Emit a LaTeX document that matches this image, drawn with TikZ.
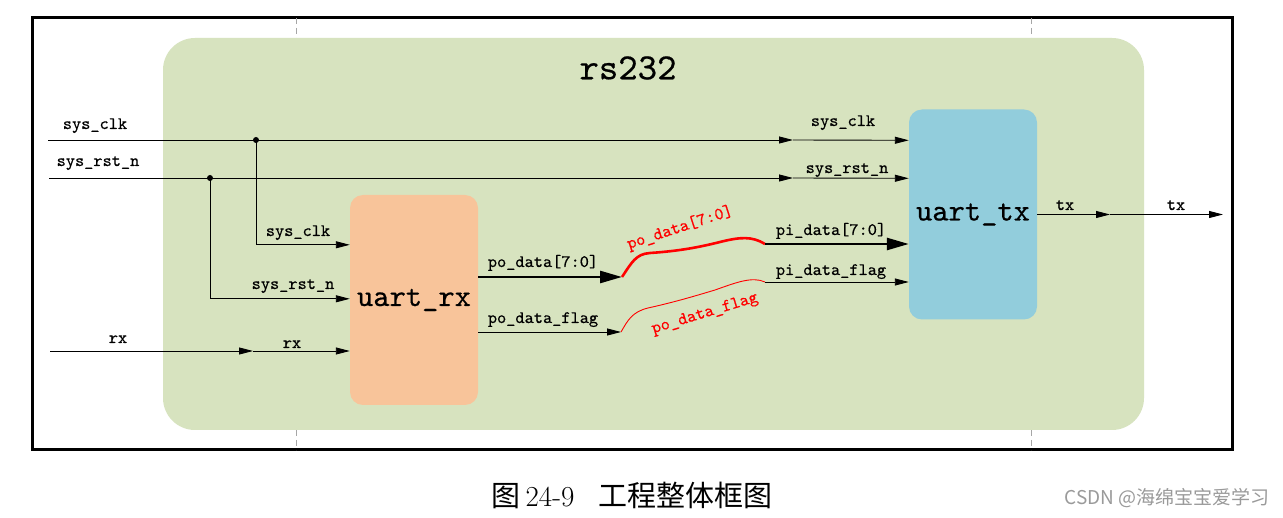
\documentclass[tikz,border=0pt]{standalone}
\usepackage{fontspec}
\newfontfamily\cjk{Noto Sans CJK SC}
\newfontfamily\lblfont[FakeBold=0.5]{lmmono10-regular.otf}
\usetikzlibrary{arrows.meta,calc}
\definecolor{bggreen}{HTML}{D7E3BF}
\definecolor{rxorange}{HTML}{F8C49A}
\definecolor{txblue}{HTML}{92CDDC}
\definecolor{wmgray}{HTML}{9A9A9A}
\begin{document}
\begin{tikzpicture}[x=1pt,y=-1pt,
  sig/.style={line width=0.9pt},
  sigarrow/.style={sig,-{Triangle[length=14pt,width=7pt]}},
  busarrow/.style={line width=2.6pt,-{Triangle[length=22pt,width=12pt]}},
  lbl/.style={font=\lblfont\fontsize{17.5}{17.5}\selectfont,inner sep=0pt,anchor=base},
  redlbl/.style={font=\lblfont\fontsize{17.5}{17.5}\selectfont,inner sep=0pt,text=red},
  blockbox/.style={rounded corners=13pt,minimum width=128pt,minimum height=210pt,inner sep=0pt,font=\lblfont\fontsize{31}{31}\selectfont},
  dot/.style={circle,fill=black,inner sep=0pt,minimum size=6pt},
  guide/.style={gray!70,line width=0.8pt,dash pattern=on 6pt off 4pt}
]
\useasboundingbox[fill=white] (0,0) rectangle (1283,518);
% outer frame
\draw[line width=3pt] (32,18) rectangle (1232,450);
% guides
\draw[guide] (296,18) -- (296,38);
\draw[guide] (296,430) -- (296,450);
\draw[guide] (1031,18) -- (1031,38);
\draw[guide] (1031,430) -- (1031,450);
% top module
\node[fill=bggreen,rounded corners=32pt,minimum width=981pt,minimum height=392pt,inner sep=0pt] (top) at (653.5,234) {};
\node[font=\lblfont\fontsize{37}{37}\selectfont,inner sep=0pt] (title) at (628,68) {rs232};
% blocks
\node[blockbox,fill=rxorange] (rx) at (414,300) {uart\_rx};
\node[blockbox,fill=txblue] (tx) at (973,214.5) {uart\_tx};
% free ends and points
\coordinate (inclk) at (48,140);
\coordinate (inrst) at (49,178);
\coordinate (inrx) at (50,351);
\coordinate (jclk) at (256,140);
\coordinate (jrst) at (210,178);
\coordinate (mclk) at (793,140);
\coordinate (mrst) at (793,178);
\coordinate (mrx) at (253,351);
\coordinate (mtx) at (1110,214.5);
\coordinate (outtx) at (1223,214.5);
\coordinate (poend) at (622,277);
\coordinate (flagend) at (621,332);
\coordinate (pistart) at (765,244);
\coordinate (piflagstart) at (765,282);
% clock / reset
\draw[sig] (inclk) -- (jclk);
\draw[sigarrow] (jclk) -- (mclk);
\draw[sigarrow] (mclk) -- ($(tx.north west)+(0,31)$);
\draw[sig] (inrst) -- (jrst);
\draw[sigarrow] (jrst) -- (mrst);
\draw[sigarrow] (mrst) -- ($(tx.north west)+(0,69)$);
\draw[sigarrow] (jclk) |- ($(rx.north west)+(0,50)$);
\draw[sigarrow] (jrst) |- ($(rx.north west)+(0,104)$);
\node[dot] at (jclk) {};
\node[dot] at (jrst) {};
% rx
\draw[sigarrow] (inrx) -- (mrx);
\draw[sigarrow] (mrx) -- (rx.west |- mrx);
% data
\draw[busarrow] (rx.east |- poend) -- (poend);
\draw[sigarrow] (rx.east |- flagend) -- (flagend);
\draw[red,line width=2.6pt] (poend) .. controls (632,262) and (636,254) .. (650,253)
  .. controls (680,251) and (700,247) .. (720,242)
  .. controls (740,237) and (752,236) .. (pistart);
\draw[red,line width=0.9pt] (flagend) .. controls (628,320) and (632,312) .. (648,308)
  .. controls (675,302) and (695,296) .. (715,290)
  .. controls (735,283) and (752,276) .. (piflagstart);
\draw[busarrow] (pistart) -- (tx.west |- pistart);
\draw[sigarrow] (piflagstart) -- (tx.west |- piflagstart);
% tx
\draw[sigarrow] (tx.east) -- (mtx);
\draw[sigarrow] (mtx) -- (outtx);
% labels
\node[lbl] (l1) at (95,129) {sys\_clk};
\node[lbl] (l2) at (98,166) {sys\_rst\_n};
\node[lbl] (l3) at (298,236) {sys\_clk};
\node[lbl] (l4) at (293,289) {sys\_rst\_n};
\node[lbl] (l5) at (118,343) {rx};
\node[lbl] (l6) at (292,348) {rx};
\node[lbl] (l7) at (543,267) {po\_data[7:0]};
\node[lbl] (l8) at (543,323) {po\_data\_flag};
\node[lbl] (l9) at (843,126) {sys\_clk};
\node[lbl] (l10) at (847,173) {sys\_rst\_n};
\node[lbl] (l11) at (831,235) {pi\_data[7:0]};
\node[lbl] (l12) at (831,275) {pi\_data\_flag};
\node[lbl] (l13) at (1065,210) {tx};
\node[lbl] (l14) at (1176,210) {tx};
\node[redlbl,rotate=18] (r1) at (680,228) {po\_data[7:0]};
\node[redlbl,rotate=17] (r2) at (705,314) {po\_data\_flag};
% caption
\node[inner sep=0pt,font=\fontsize{29}{29}\selectfont] (cap) at (632,495) {{\cjk 图}\hspace{5pt}24-9\hspace{24pt}{\cjk 工程整体框图}};
\node[inner sep=0pt,font=\fontsize{19}{19}\selectfont,text=wmgray,anchor=east] (wm) at (1270,498) {{\cjk CSDN @海绵宝宝爱学习}};
\end{tikzpicture}
\end{document}
